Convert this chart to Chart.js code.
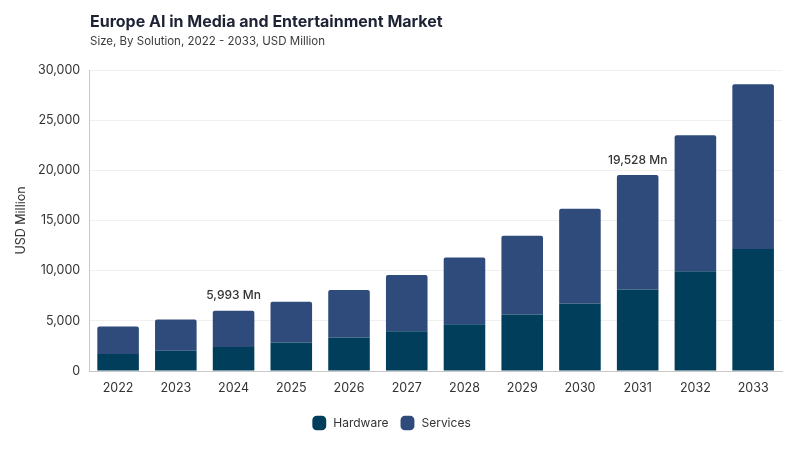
<!DOCTYPE html>
<html>
<head>
<meta charset="utf-8">
<script src="https://cdn.jsdelivr.net/npm/chart.js@4"></script>
<style>
  body { margin: 0; background: #fff; }
  #wrap { position: relative; width: 800px; height: 450px; }
  #title {
    position: absolute; left: 90px; top: 11px; margin: 0;
    font: 700 16px Inter, sans-serif; color: #1e2235;
  }
  #subtitle {
    position: absolute; left: 90px; top: 34px; margin: 0;
    font: 400 11.5px Inter, sans-serif; color: #3a3a3a;
  }
</style>
</head>
<body>
<div id="wrap">
  <canvas id="chart" width="800" height="450"></canvas>
  <h1 id="title">Europe AI in Media and Entertainment Market</h1>
  <p id="subtitle">Size, By Solution, 2022 - 2033, USD Million</p>
</div>
<script>
const years = ["2022", "2023", "2024", "2025", "2026", "2027", "2028", "2029", "2030", "2031", "2032", "2033"];
const hardware = [1700, 2030, 2400, 2830, 3330, 3950, 4660, 5630, 6730, 8130, 9930, 12170];
const totals = [4430, 5130, 5993, 6900, 8070, 9570, 11300, 13470, 16170, 19528, 23500, 28570];
const services = totals.map((t, i) => t - hardware[i]);
const callouts = { "2024": "5,993 Mn", "2031": "19,528 Mn" };

const textColor = "#333";

const calloutPlugin = {
  id: "callouts",
  afterDatasetsDraw(chart) {
    const { ctx, scales } = chart;
    ctx.save();
    ctx.font = "500 12px Inter, sans-serif";
    ctx.fillStyle = "#333";
    ctx.textAlign = "center";
    ctx.textBaseline = "bottom";
    years.forEach((y, i) => {
      if (!callouts[y]) return;
      const x = scales.x.getPixelForValue(i);
      const top = scales.y.getPixelForValue(totals[i]);
      ctx.fillText(callouts[y], x, top - 9);
    });
    ctx.restore();
  },
};

new Chart(document.getElementById("chart").getContext("2d"), {
  type: "bar",
  data: {
    labels: years,
    datasets: [
      {
        label: "Hardware",
        data: hardware,
        backgroundColor: "#003e5c",
        borderWidth: 0,
        categoryPercentage: 0.72,
        barPercentage: 1,
      },
      {
        label: "Services",
        data: services,
        backgroundColor: "#2f4b7c",
        borderRadius: { topLeft: 2, topRight: 2 },
        borderSkipped: false,
        borderWidth: 0,
        categoryPercentage: 0.72,
        barPercentage: 1,
      },
    ],
  },
  options: {
    responsive: false,
    animation: false,
    layout: { padding: { top: 70, right: 18, left: 0, bottom: 11 } },
    plugins: {
      legend: {
        position: "bottom",
        labels: {
          color: textColor,
          usePointStyle: true,
          pointStyle: "rectRounded",
          boxHeight: 14,
          pointStyleWidth: 16,
          padding: 11,
          font: { family: "Inter, sans-serif", size: 12 },
        },
      },
      tooltip: { enabled: false },
    },
    scales: {
      x: {
        stacked: true,
        grid: { display: false, drawTicks: false },
        border: { color: "#c8c8c8" },
        ticks: {
          color: textColor,
          padding: 10,
          font: { family: "Inter, sans-serif", size: 12.5 },
        },
      },
      y: {
        stacked: true,
        min: 0,
        max: 30000,
        grid: { color: "#f0f0f0", drawTicks: false },
        border: { color: "#c8c8c8" },
        ticks: {
          stepSize: 5000,
          color: textColor,
          padding: 9,
          font: { family: "Inter, sans-serif", size: 12.5 },
          callback: (v) => v.toLocaleString("en-US"),
        },
        title: {
          display: true,
          text: "USD Million",
          color: textColor,
          padding: { top: 14, bottom: 0 },
          font: { family: "Inter, sans-serif", size: 12.5 },
        },
      },
    },
  },
  plugins: [calloutPlugin],
});
</script>
</body>
</html>
